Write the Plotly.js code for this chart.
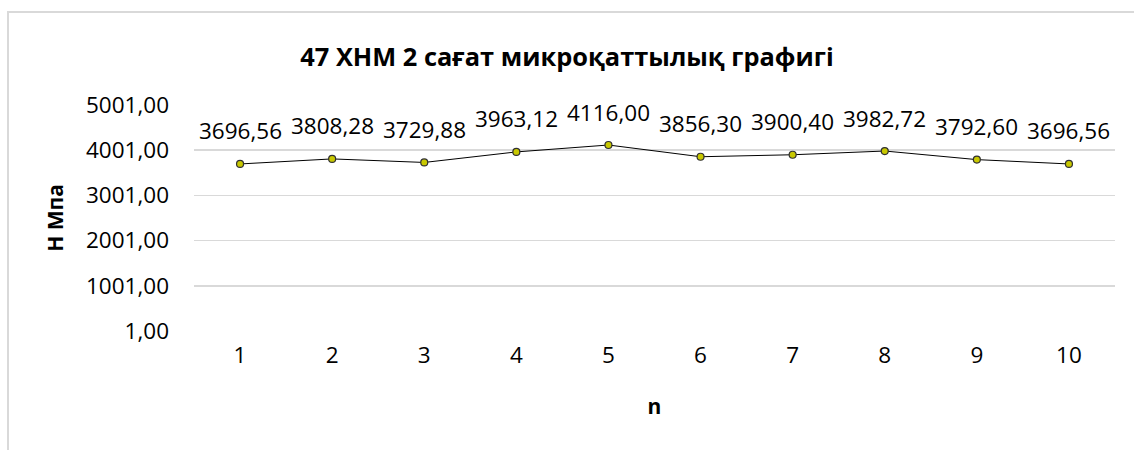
<!DOCTYPE html>
<html>
<head>
<meta charset="utf-8">
<script src="https://cdn.plot.ly/plotly-3.0.1.min.js"></script>
<style>
  html, body { margin: 0; padding: 0; background: #ffffff; }
  #frame { position: absolute; left: 7px; top: 11px; width: 1140px; height: 460px; border: 2px solid #d9d9d9; box-sizing: border-box; }
  #chart { position: absolute; left: 0; top: 0; width: 1134px; height: 450px; }
</style>
</head>
<body>
<div id="frame"></div>
<div id="chart"></div>
<script>
const categories = [1, 2, 3, 4, 5, 6, 7, 8, 9, 10];
const hardness = [3696.56, 3808.28, 3729.88, 3963.12, 4116.00, 3856.30, 3900.40, 3982.72, 3792.60, 3696.56];
const yTickValues = [1, 1001, 2001, 3001, 4001, 5001];

const fmt = v => v.toFixed(2).replace('.', ',');
const FONT = '"Open Sans", Lato, sans-serif';

const trace = {
  x: categories,
  y: hardness,
  type: 'scatter',
  mode: 'lines+markers',
  line: { color: '#000000', width: 1 },
  marker: { size: 7, color: '#c8c800', line: { color: '#303030', width: 1.2 } },
  hoverinfo: 'skip',
  showlegend: false
};

const annotations = categories.map((c, i) => ({
  x: c, y: hardness[i], xref: 'x', yref: 'y',
  text: fmt(hardness[i]), showarrow: false,
  yshift: 33, font: { family: FONT, size: 22.5, color: '#000000' }
}));

const layout = {
  width: 1134, height: 450,
  margin: { l: 194, r: 19, t: 105, b: 119 },
  paper_bgcolor: 'rgba(0,0,0,0)',
  plot_bgcolor: 'rgba(0,0,0,0)',
  title: {
    text: '<b>47 ХНМ 2 сағат микроқаттылық графигі</b>',
    font: { family: FONT, size: 25.4, color: '#000000' },
    x: 0.5, xref: 'container', y: 1 - 57 / 450, yref: 'container',
    xanchor: 'center', yanchor: 'middle'
  },
  xaxis: {
    range: [0.5, 10.5],
    tickvals: categories,
    ticktext: categories.map(String),
    showgrid: false, zeroline: false, showline: false,
    ticks: '', ticklen: 0,
    ticklabelstandoff: 8,
    tickfont: { family: FONT, size: 22.5, color: '#000000' },
    title: { text: '<b>n</b>', font: { family: FONT, size: 21, color: '#000000' }, standoff: 30 },
    automargin: false
  },
  yaxis: {
    range: [1, 5001],
    tickvals: yTickValues,
    ticktext: yTickValues.map(fmt),
    showgrid: true, gridcolor: '#d9d9d9', gridwidth: 1.5,
    zeroline: false, showline: false, ticks: '',
    ticklabelstandoff: 24,
    tickfont: { family: FONT, size: 22.5, color: '#000000' },
    title: { text: '<b>Н Мпа</b>', font: { family: FONT, size: 21, color: '#000000' }, standoff: 16 },
    automargin: false
  },
  annotations: annotations
};

Plotly.newPlot('chart', [trace], layout, { displayModeBar: false, staticPlot: true });
</script>
</body>
</html>
